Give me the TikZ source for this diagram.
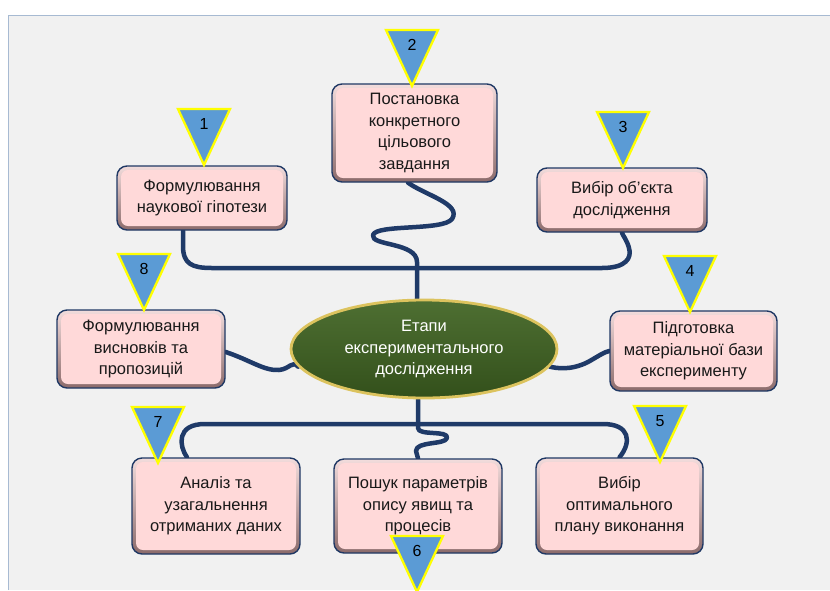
\documentclass[tikz,border=0pt]{standalone}
\usepackage{fontspec}
\setmainfont{Liberation Sans}
\usetikzlibrary{shapes.geometric}

\definecolor{panelbg}{HTML}{F1F1F1}
\definecolor{panelrule}{HTML}{A7BAD2}
\definecolor{navy}{HTML}{1F3864}
\definecolor{boxpink}{HTML}{FFD9D9}
\definecolor{bevellight}{HTML}{F2DCDC}
\definecolor{beveldark}{HTML}{8C6B6B}
\definecolor{hubgreenlight}{HTML}{4E6F32}
\definecolor{hubgreen}{HTML}{3F5F24}
\definecolor{hubgreendark}{HTML}{33501B}
\definecolor{hubgold}{HTML}{DCC35E}
\definecolor{markerblue}{HTML}{5B9BD5}
\definecolor{markeryellow}{HTML}{FFFF00}
\definecolor{linkblue}{HTML}{1F3A68}

\newcommand\boxfont{\fontsize{16.5pt}{21.5pt}\selectfont}
\newcommand\numfont{\fontsize{16pt}{16pt}\selectfont}

\pgfdeclarelayer{panel}
\pgfdeclarelayer{links}
\pgfsetlayers{panel,links,main}

\tikzset{
  stagebox/.style={rectangle, rounded corners=10pt, draw=navy, line width=1.4pt,
    top color=bevellight, bottom color=beveldark, inner sep=0pt, align=center,
    font=\boxfont, text=black!90,
    path picture={\fill[boxpink, rounded corners=7pt]
      ([shift={(4pt,4pt)}]path picture bounding box.south west) rectangle
      ([shift={(-4pt,-4pt)}]path picture bounding box.north east);}},
  hubshape/.style={ellipse, draw=hubgold, line width=2.8pt, top color=hubgreenlight,
    middle color=hubgreen, bottom color=hubgreendark, text=white, align=center,
    font=\boxfont, inner sep=0pt},
  link/.style={draw=linkblue, line width=4.5pt, line cap=round, line join=round},
  marker/.style={fill=markerblue, draw=markeryellow, line width=2.3pt, line join=miter},
  markernum/.style={font=\numfont, text=black, inner sep=0pt},
}

% numbered marker: name, apex x, apex y, number
\newcommand\stagemark[4]{%
  \path[marker] (#2-26,#3-56) -- (#2+26,#3-56) -- (#2,#3) -- cycle;
  \node[markernum] (#1) at (#2,#3-41) {#4};}

\begin{document}
\begin{tikzpicture}[x=1pt, y=-1pt]
\useasboundingbox (0,0) rectangle (830,590);

\begin{pgfonlayer}{panel}
  \fill[white] (0,0) rectangle (830,590);
  \fill[panelbg] (8,15) rectangle (830,590);
  \draw[panelrule, line width=1pt] (8,590) -- (8,15) -- (830,15);
\end{pgfonlayer}

% central ellipse
\node[hubshape, minimum width=266pt, minimum height=98pt] (hub) at (424,349)
  {Етапи\\експериментального\\дослідження};

% stage boxes
\node[stagebox, minimum width=170pt, minimum height=64pt] (s1) at (202,198)
  {Формулювання\\наукової гіпотези};
\node[stagebox, minimum width=165pt, minimum height=98pt] (s2) at (414.5,133)
  {Постановка\\конкретного\\цільового\\завдання};
\node[stagebox, minimum width=170pt, minimum height=64pt] (s3) at (622,200)
  {Вибір об’єкта\\дослідження};
\node[stagebox, minimum width=167pt, minimum height=80pt] (s4) at (693.5,351)
  {Підготовка\\матеріальної бази\\експерименту};
\node[stagebox, minimum width=167pt, minimum height=96pt] (s5) at (619.5,506)
  {Вибір\\оптимального\\плану виконання};
\node[stagebox, minimum width=168pt, minimum height=94pt] (s6) at (418,506)
  {Пошук параметрів\\опису явищ та\\процесів};
\node[stagebox, minimum width=168pt, minimum height=96pt] (s7) at (216,506)
  {Аналіз та\\узагальнення\\отриманих даних};
\node[stagebox, minimum width=168pt, minimum height=78pt] (s8) at (141,349)
  {Формулювання\\висновків та\\пропозицій};

% connectors
\begin{pgfonlayer}{links}
  \draw[link] ([xshift=-19pt]s1.south) -- (183,246)
    .. controls (183,264) and (192,268) .. (212,268) -- (602,268)
    .. controls (626,268) and (632,258) .. (629,248)
    .. controls (627,240) and (623,236) .. (s3.south);
  \draw[link] ([xshift=-6.5pt]s2.south)
    .. controls (425,195) and (462,204) .. (452,219)
    .. controls (443,231) and (376,224) .. (373,235)
    .. controls (370,246) and (417,242) .. (417,262)
    -- ([xshift=-7pt]hub.north);
  \draw[link] ([xshift=-29pt]s7.north)
    .. controls (179,446) and (176,424) .. (205,424) -- (603,424)
    .. controls (630,424) and (632,442) .. (s5.north);
  \draw[link] ([xshift=-6pt]hub.south) -- (418,428)
    .. controls (418,436) and (449,430) .. (447,438)
    .. controls (445,445) and (416,441) .. (416,451) -- (s6.north);
  \draw[link] ([yshift=-3pt]s8.east)
    .. controls (250,360) and (264,371) .. (279,370)
    .. controls (290,369) and (292,360) .. (hub.188);
  \draw[link] (hub.-8)
    .. controls (556,368) and (570,371) .. (588,362)
    .. controls (597,357) and (604,352) .. (s4.west);
\end{pgfonlayer}

% numbered markers
\stagemark{m1}{204}{165}{1}
\stagemark{m2}{412}{86}{2}
\stagemark{m3}{623}{168}{3}
\stagemark{m4}{690}{312}{4}
\stagemark{m5}{660}{462}{5}
\stagemark{m6}{417}{592}{6}
\stagemark{m7}{158}{463}{7}
\stagemark{m8}{144}{310}{8}

\end{tikzpicture}
\end{document}
